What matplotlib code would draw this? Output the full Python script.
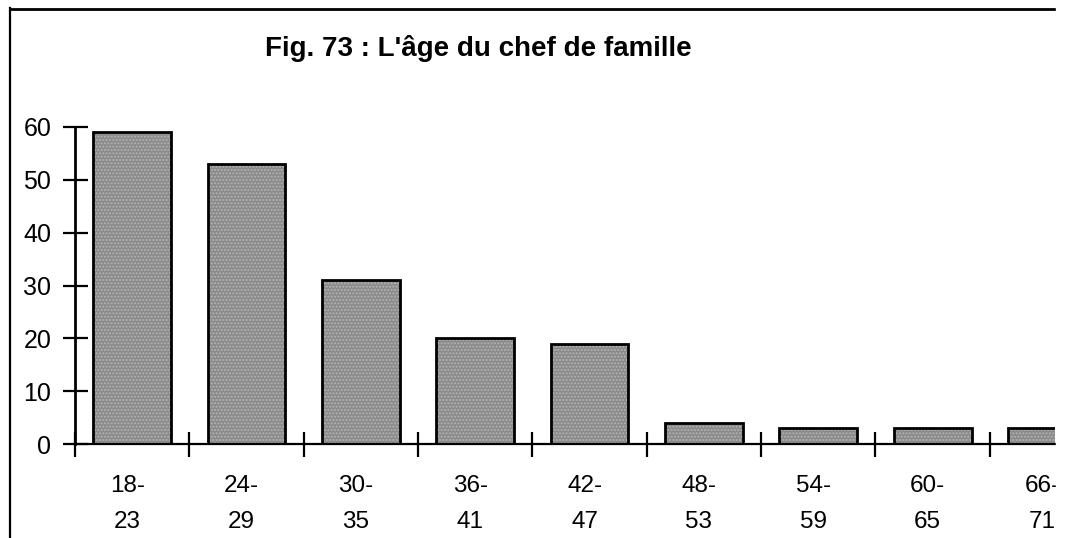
import matplotlib.pyplot as plt
import matplotlib.transforms as mtransforms
from matplotlib.lines import Line2D
from matplotlib.patches import Rectangle

# data
age_groups = ['18-\n23', '24-\n29', '30-\n35', '36-\n41', '42-\n47',
              '48-\n53', '54-\n59', '60-\n65', '66-\n71']
counts = [59, 53, 31, 20, 19, 4, 3, 3, 3]
y_ticks = [0, 10, 20, 30, 40, 50, 60]

plt.rcParams['font.family'] = ['Liberation Sans', 'DejaVu Sans']

W, H = 1067, 538
fig = plt.figure(figsize=(W / 100, H / 100), dpi=100)

# axes box in pixels: x from 75 to 1055, y from 127 (60) to 444 (0)
ax = fig.add_axes([75 / W, (H - 444) / H, (1055 - 75) / W, (444 - 127) / H])

pos = [i + 0.5 for i in range(len(counts))]
# stipple fill, then black outline on top
ax.bar(pos, counts, width=0.68, color='#8a8a8a', hatch='.....',
       edgecolor='#b4b4b4', linewidth=0, zorder=2)
ax.bar(pos, counts, width=0.68, fill=False, edgecolor='black',
       linewidth=2, zorder=3)

ax.set_xlim(0, 8.57)
ax.set_ylim(0, 60)

for s in ['top', 'right']:
    ax.spines[s].set_visible(False)
ax.spines['left'].set_linewidth(2)
ax.spines['bottom'].set_linewidth(1.6)

ax.set_yticks(y_ticks)
ax.tick_params(axis='y', direction='inout', length=18, width=1.6,
               labelsize=18, pad=8)

ax.set_xticks(range(0, 9))
ax.set_xticklabels([])
ax.set_xticks(pos, minor=True)
ax.set_xticklabels(age_groups, minor=True, linespacing=1.85)
ax.tick_params(axis='x', which='major', direction='inout', length=18, width=1.6)
ax.tick_params(axis='x', which='minor', length=0, labelsize=17.5, pad=22)

# labels sit a little left of the bar centres in the original
shift = mtransforms.ScaledTranslation(-5 / 100, 0, fig.dpi_scale_trans)
for lab in ax.xaxis.get_minorticklabels():
    lab.set_transform(lab.get_transform() + shift)

fig.text(478 / W, 1 - 48 / H, "Fig. 73 : L'âge du chef de famille",
         ha='center', va='center', fontsize=20, fontweight='bold')

# outer frame (left and top edges only, rest is cut off)
fig.add_artist(Line2D([10 / W, 10 / W], [0, 1 - 8 / H], color='black',
                      lw=1.6, transform=fig.transFigure))
fig.add_artist(Line2D([10 / W, 1055 / W], [1 - 9 / H, 1 - 9 / H], color='black',
                      lw=2, transform=fig.transFigure))
# right strip is blank in the reference, cuts the last label
fig.add_artist(Rectangle((1056 / W, 0), 11 / W, 1, color='white', zorder=10,
                         transform=fig.transFigure))

fig.savefig('out.png', dpi=100)
